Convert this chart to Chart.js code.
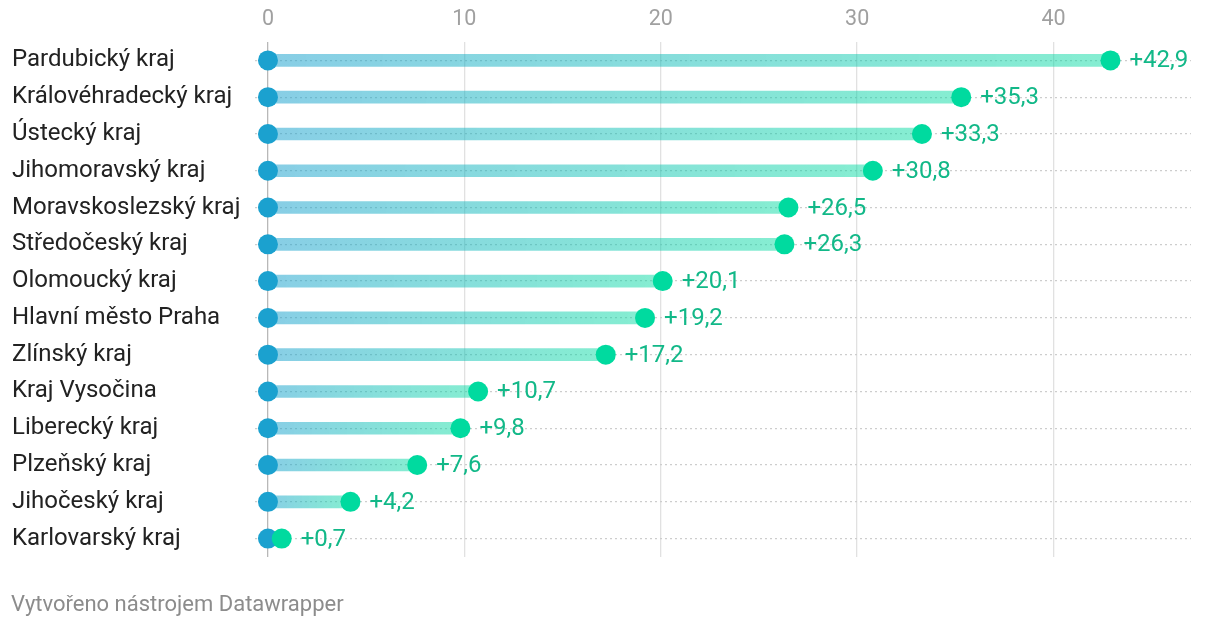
<!DOCTYPE html>
<html>
<head>
<meta charset="utf-8">
<script src="https://cdn.jsdelivr.net/npm/chart.js@4.4.1/dist/chart.umd.min.js"></script>
<style>
  body { margin: 0; background: #fff; font-family: Roboto, sans-serif; }
  #wrap { position: relative; width: 1220px; height: 630px; }
  #foot { position: absolute; left: 11px; top: 591px; font-size: 22px; color: #8c8c8c; }
</style>
</head>
<body>
<div id="wrap">
  <canvas id="c"></canvas>
  <div id="foot">Vytvořeno nástrojem Datawrapper</div>
</div>
<script>
var regions = [
	"Pardubický kraj",
	"Královéhradecký kraj",
	"Ústecký kraj",
	"Jihomoravský kraj",
	"Moravskoslezský kraj",
	"Středočeský kraj",
	"Olomoucký kraj",
	"Hlavní město Praha",
	"Zlínský kraj",
	"Kraj Vysočina",
	"Liberecký kraj",
	"Plzeňský kraj",
	"Jihočeský kraj",
	"Karlovarský kraj"
];
var startVals = [0, 0, 0, 0, 0, 0, 0, 0, 0, 0, 0, 0, 0, 0];
var endVals = [42.9, 35.3, 33.3, 30.8, 26.5, 26.3, 20.1, 19.2, 17.2, 10.7, 9.8, 7.6, 4.2, 0.7];
var xTicks = [0, 10, 20, 30, 40];

var blue = "#1ba1cf";
var green = "#00da9f";

Chart.defaults.font.family = "Roboto";

function barGradient(c){
	var chart = c.chart;
	if (!chart.chartArea || c.dataIndex === undefined) return "rgba(60,180,210,0.55)";
	var xs = chart.scales.x;
	var x0 = xs.getPixelForValue(startVals[c.dataIndex]);
	var x1 = xs.getPixelForValue(endVals[c.dataIndex]);
	if (x1 - x0 < 1) x1 = x0 + 1;
	var g = chart.ctx.createLinearGradient(x0, 0, x1, 0);
	g.addColorStop(0, "rgba(27,161,207,0.52)");
	g.addColorStop(1, "rgba(0,218,159,0.48)");
	return g;
}

// value labels next to the green dots
var endLabels = {
	id: "endLabels",
	afterDatasetsDraw: function(chart){
		var meta = chart.getDatasetMeta(0);
		var ctx = chart.ctx;
		ctx.save();
		ctx.font = "24px Roboto";
		ctx.fillStyle = "#12b888";
		ctx.textAlign = "left";
		ctx.textBaseline = "middle";
		meta.data.forEach(function(pt, i){
			var txt = "+" + endVals[i].toFixed(1).replace(".", ",");
			ctx.fillText(txt, pt.x + 19, pt.y + 1);
		});
		ctx.restore();
	}
};

var config = {
	type: "bar",
	data: {
		labels: regions,
		datasets: [
			{
				type: "line",
				label: "end",
				data: endVals,
				showLine: false,
				pointRadius: 10,
				pointHoverRadius: 10,
				pointBackgroundColor: green,
				pointBorderWidth: 0,
				order: 1
			},
			{
				type: "line",
				label: "start",
				data: startVals,
				showLine: false,
				pointRadius: 10,
				pointHoverRadius: 10,
				pointBackgroundColor: blue,
				pointBorderWidth: 0,
				order: 2
			},
			{
				label: "range",
				data: regions.map(function(r, i){ return [startVals[i], endVals[i]]; }),
				backgroundColor: barGradient,
				barThickness: 12,
				borderSkipped: false,
				order: 3
			}
		]
	},
	options: {
		indexAxis: "y",
		responsive: true,
		maintainAspectRatio: false,
		animation: false,
		layout: { padding: { left: 12, right: 29, top: 0, bottom: 73 } },
		plugins: {
			legend: { display: false },
			tooltip: { enabled: false }
		},
		scales: {
			x: {
				position: "top",
				min: -0.66,
				max: 47.0,
				afterBuildTicks: function(scale){
					scale.ticks = xTicks.map(function(v){ return { value: v }; });
				},
				afterFit: function(scale){ scale.height = 42; },
				border: { display: false },
				grid: {
					drawTicks: false,
					lineWidth: 1.3,
					color: function(c){ return c.tick && c.tick.value === 0 ? "#b8b8b8" : "#e1e1e1"; }
				},
				ticks: {
					padding: 9,
					color: "#a0a0a0",
					font: { size: 21.5 }
				}
			},
			y: {
				afterFit: function(scale){ scale.width = 243; },
				border: { display: false, dash: [2, 3] },
				grid: {
					offset: false,
					drawTicks: false,
					color: "#cdcdcd",
					lineWidth: 1.3
				},
				ticks: {
					crossAlign: "far",
					padding: 0,
					color: "#222222",
					font: { size: 24 }
				}
			}
		}
	},
	plugins: [endLabels]
};

var myChart = new Chart(document.getElementById("c"), config);
</script>
</body>
</html>
